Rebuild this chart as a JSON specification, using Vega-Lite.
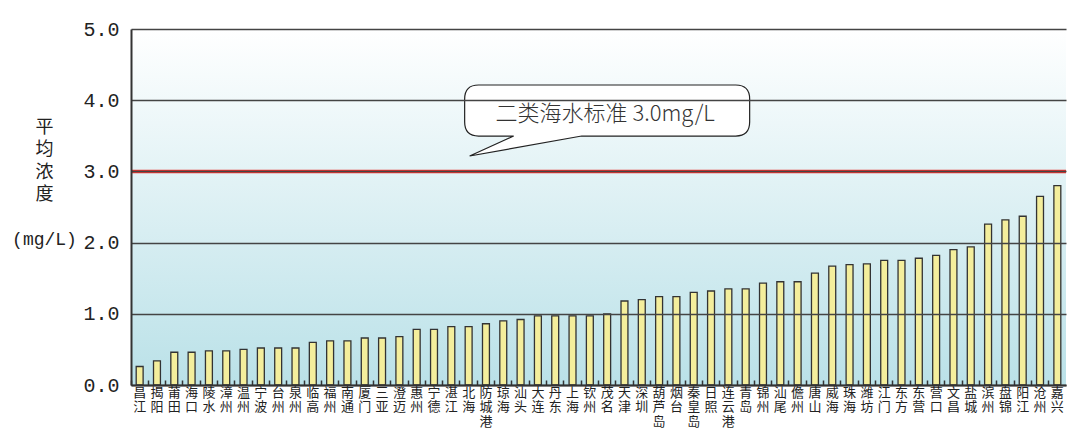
{
  "$schema": "https://vega.github.io/schema/vega-lite/v6.json",
  "autosize": {"type": "none"},
  "padding": {"left": 131, "top": 29, "right": 1, "bottom": 52},
  "width": 935,
  "height": 356,
  "background": "#ffffff",
  "config": {"view": {"stroke": null}, "font": "Liberation Mono, Noto Sans CJK SC"},
  "datasets": {
    "cities": [
      {"city": "昌江", "value": 0.26},
      {"city": "揭阳", "value": 0.34},
      {"city": "莆田", "value": 0.46},
      {"city": "海口", "value": 0.46},
      {"city": "陵水", "value": 0.48},
      {"city": "漳州", "value": 0.48},
      {"city": "温州", "value": 0.50},
      {"city": "宁波", "value": 0.52},
      {"city": "台州", "value": 0.52},
      {"city": "泉州", "value": 0.52},
      {"city": "临高", "value": 0.60},
      {"city": "福州", "value": 0.62},
      {"city": "南通", "value": 0.62},
      {"city": "厦门", "value": 0.66},
      {"city": "三亚", "value": 0.66},
      {"city": "澄迈", "value": 0.68},
      {"city": "惠州", "value": 0.78},
      {"city": "宁德", "value": 0.78},
      {"city": "湛江", "value": 0.82},
      {"city": "北海", "value": 0.82},
      {"city": "防城港", "value": 0.86},
      {"city": "琼海", "value": 0.90},
      {"city": "汕头", "value": 0.92},
      {"city": "大连", "value": 0.97},
      {"city": "丹东", "value": 0.97},
      {"city": "上海", "value": 0.97},
      {"city": "钦州", "value": 0.97},
      {"city": "茂名", "value": 1.00},
      {"city": "天津", "value": 1.18},
      {"city": "深圳", "value": 1.20},
      {"city": "葫芦岛", "value": 1.24},
      {"city": "烟台", "value": 1.24},
      {"city": "秦皇岛", "value": 1.30},
      {"city": "日照", "value": 1.32},
      {"city": "连云港", "value": 1.35},
      {"city": "青岛", "value": 1.35},
      {"city": "锦州", "value": 1.43},
      {"city": "汕尾", "value": 1.45},
      {"city": "儋州", "value": 1.45},
      {"city": "唐山", "value": 1.57},
      {"city": "威海", "value": 1.67},
      {"city": "珠海", "value": 1.69},
      {"city": "潍坊", "value": 1.70},
      {"city": "江门", "value": 1.75},
      {"city": "东方", "value": 1.75},
      {"city": "东营", "value": 1.78},
      {"city": "营口", "value": 1.82},
      {"city": "文昌", "value": 1.90},
      {"city": "盐城", "value": 1.94},
      {"city": "滨州", "value": 2.26},
      {"city": "盘锦", "value": 2.32},
      {"city": "阳江", "value": 2.37},
      {"city": "沧州", "value": 2.65},
      {"city": "嘉兴", "value": 2.80}
    ],
    "bg": [{"top": 5, "bottom": 0}],
    "standard": [{"y": 3.0}],
    "note": [{"city": "茂名", "y": 3.855, "ty": 3.8, "label": "二类海水标准 3.0mg/L"}]
  },
  "layer": [
    {
      "data": {"name": "bg"},
      "mark": {
        "type": "rect",
        "color": {
          "gradient": "linear", "x1": 0, "y1": 0, "x2": 0, "y2": 1,
          "stops": [
            {"offset": 0, "color": "#ffffff"},
            {"offset": 1, "color": "#bae1e8"}
          ]
        }
      },
      "encoding": {
        "y": {"field": "top", "type": "quantitative", "scale": {"domain": [0, 5], "nice": false}},
        "y2": {"field": "bottom"}
      }
    },
    {
      "data": {"name": "cities"},
      "mark": {"type": "bar", "fill": "#f4ee9c", "stroke": "#333333", "strokeWidth": 1.3, "width": {"band": 0.4}},
      "encoding": {
        "x": {
          "field": "city", "type": "nominal", "sort": null,
          "scale": {"paddingInner": 0, "paddingOuter": 0},
          "axis": {
            "title": null,
            "labelAngle": 0,
            "labelExpr": "split(datum.label, '')",
            "labelFont": "Noto Sans CJK SC",
            "labelFontSize": 13,
            "labelLineHeight": 14.5,
            "labelBaseline": "top",
            "labelPadding": 6,
            "labelColor": "#222222",
            "labelOverlap": false,
            "bandPosition": 0,
            "ticks": true,
            "tickSize": -5,
            "tickColor": "#333333",
            "tickWidth": 1.5,
            "domainColor": "#333333",
            "domainWidth": 2,
            "zindex": 1
          }
        },
        "y": {
          "field": "value", "type": "quantitative",
          "scale": {"domain": [0, 5], "nice": false},
          "axis": {
            "values": [0, 1, 2, 3, 4, 5],
            "format": ".1f",
            "labelFont": "Liberation Mono",
            "labelFontSize": 20,
            "labelColor": "#222222",
            "labelPadding": 12,
            "ticks": false,
            "grid": true,
            "gridColor": "#444444",
            "gridWidth": 1.5,
            "domainColor": "#333333",
            "domainWidth": 2,
            "zindex": 1,
            "title": ["平", "均", "浓", "度", "\u200b", "(mg/L)"],
            "titleFont": "Liberation Mono, Noto Sans CJK SC",
            "titleFontSize": 18,
            "titleFontWeight": "normal",
            "titleColor": "#222222",
            "titleAngle": 0,
            "titleAlign": "center",
            "titleBaseline": "top",
            "titleLineHeight": 22.5,
            "titleX": -87,
            "titleY": 89
          }
        }
      }
    },
    {
      "data": {"name": "standard"},
      "mark": {"type": "rule", "color": "#e8302c", "strokeWidth": 3.5},
      "encoding": {"y": {"field": "y", "type": "quantitative"}}
    },
    {
      "data": {"name": "note"},
      "mark": {
        "type": "point",
        "filled": true,
        "fill": "#ffffff",
        "stroke": "#222222",
        "strokeWidth": 1.2,
        "opacity": 1,
        "size": 81225,
        "shape": "M -0.902 -0.179 L 0.902 -0.179 Q 1 -0.179 1 -0.081 L 1 0.081 Q 1 0.179 0.902 0.179 L -0.179 0.179 L -0.965 0.319 L -0.656 0.179 L -0.902 0.179 Q -1 0.179 -1 0.081 L -1 -0.081 Q -1 -0.179 -0.902 -0.179 Z"
      },
      "encoding": {
        "x": {"field": "city", "type": "nominal", "sort": null},
        "y": {"field": "y", "type": "quantitative"}
      }
    },
    {
      "data": {"name": "note"},
      "mark": {"type": "text", "font": "Noto Sans CJK SC", "fontSize": 22, "fontWeight": 300, "color": "#333333", "align": "center", "baseline": "middle", "dx": -2},
      "encoding": {
        "x": {"field": "city", "type": "nominal", "sort": null},
        "y": {"field": "ty", "type": "quantitative"},
        "text": {"field": "label"}
      }
    }
  ]
}
